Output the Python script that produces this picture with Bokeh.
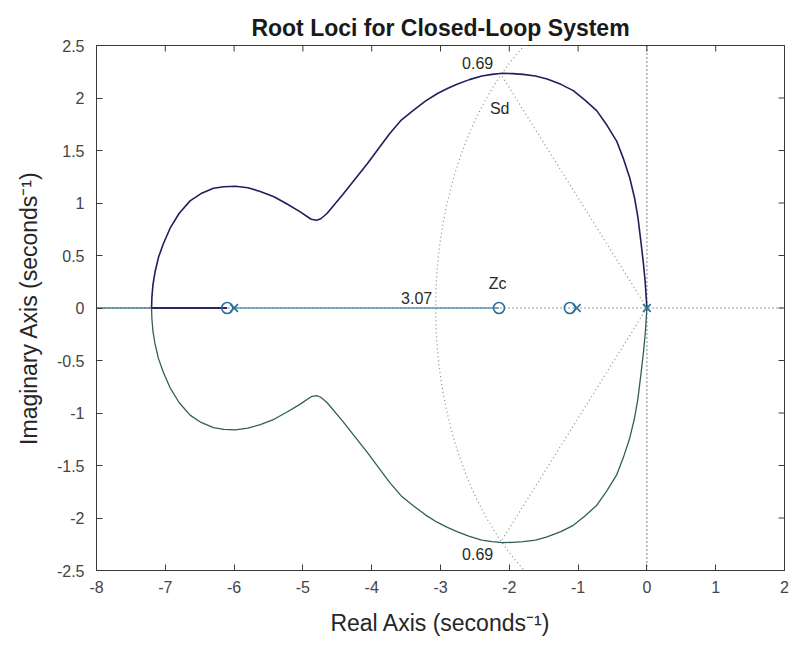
import numpy as np
from bokeh.plotting import figure
from bokeh.models import FixedTicker, Range1d
from bokeh.core.properties import value
from bokeh.embed import file_html
from bokeh.resources import INLINE

# ---- data ----
x_ticks = [-8, -7, -6, -5, -4, -3, -2, -1, 0, 1, 2]
x_tick_labels = ["-8", "-7", "-6", "-5", "-4", "-3", "-2", "-1", "0", "1", "2"]
y_ticks = [-2.5, -2, -1.5, -1, -0.5, 0, 0.5, 1, 1.5, 2, 2.5]
y_tick_labels = ["-2.5", "-2", "-1.5", "-1", "-0.5", "0", "0.5", "1", "1.5", "2", "2.5"]

# upper complex branch (from the pole at the origin to the break-in near -7.2)
branch_re = [0, -0.01, -0.025, -0.05, -0.085, -0.13, -0.18, -0.25, -0.34, -0.44,
             -0.58, -0.73, -0.90, -1.07, -1.25, -1.45, -1.62, -1.80, -1.95, -2.10,
             -2.25, -2.40, -2.58, -2.76, -2.90, -3.05, -3.22, -3.40, -3.57, -3.74,
             -4.07, -4.42, -4.65, -4.74, -4.80, -4.88, -5.05, -5.23, -5.42, -5.62,
             -5.80, -5.98, -6.15, -6.30, -6.48, -6.64, -6.80, -6.93, -7.03, -7.10,
             -7.15, -7.18, -7.195, -7.20]
branch_im = [0, 0.10, 0.25, 0.42, 0.62, 0.86, 1.05, 1.24, 1.42, 1.59,
             1.74, 1.88, 1.98, 2.07, 2.13, 2.18, 2.21, 2.225, 2.232, 2.235,
             2.225, 2.21, 2.175, 2.13, 2.09, 2.04, 1.97, 1.88, 1.79, 1.66,
             1.37, 1.08, 0.90, 0.85, 0.835, 0.845, 0.92, 0.99, 1.06, 1.11,
             1.145, 1.16, 1.155, 1.14, 1.09, 1.02, 0.90, 0.76, 0.61, 0.48,
             0.34, 0.22, 0.10, 0]

# real-axis locus segments
seg_outer = [-8.0, -7.2]     # leftmost segment
seg_inner = [-7.2, -6.1]     # break-in point to the zero
seg_mid = [-6.0, -2.15]      # pole to compensator zero Zc

poles_re = [0.0, -1.02, -6.0]
zeros_re = [-1.12, -2.15, -6.1]

zeta = 0.69
wn = 3.07

# ---- figure ----
FONT = "Liberation Sans"
AXC = "#3a3a3a"
p = figure(width=791, height=649, output_backend="svg", toolbar_location=None,
           x_range=Range1d(-8, 2), y_range=Range1d(-2.5, 2.5),
           min_border_left=96, min_border_right=7, min_border_top=45, min_border_bottom=79,
           background_fill_color="white", border_fill_color="white")
p.grid.visible = False
p.outline_line_color = AXC
p.outline_line_width = 1

p.title.text = "Root Loci for Closed-Loop System"
p.title.align = "center"
p.title.text_font = FONT
p.title.text_font_size = "23px"
p.title.text_font_style = "bold"
p.title.text_color = "#1a1a1a"

for ax, ticks, labels in ((p.xaxis[0], x_ticks, x_tick_labels), (p.yaxis[0], y_ticks, y_tick_labels)):
    ax.ticker = FixedTicker(ticks=ticks)
    ax.major_label_overrides = {t: l for t, l in zip(ticks, labels)}
    ax.major_tick_in = 6
    ax.major_tick_out = 0
    ax.minor_tick_in = 0
    ax.minor_tick_out = 0
    ax.axis_line_color = AXC
    ax.major_tick_line_color = AXC
    ax.major_label_text_font = FONT
    ax.major_label_text_font_size = "16px"
    ax.major_label_text_color = "#444444"
    ax.axis_label_text_font = FONT
    ax.axis_label_text_font_size = "23px"
    ax.axis_label_text_font_style = "normal"
    ax.axis_label_text_color = "#262626"

p.xaxis[0].axis_label = "Real Axis (seconds\u207b\u00b9)"
p.yaxis[0].axis_label = "Imaginary Axis (seconds\u207b\u00b9)"
p.xaxis[0].major_label_standoff = 10
p.yaxis[0].major_label_standoff = 12
p.xaxis[0].axis_label_standoff = 14
p.yaxis[0].axis_label_standoff = 12

# inward ticks on the top and right edges of the box (clipped half-dashes)
p.scatter(x_ticks, [2.5] * len(x_ticks), marker="dash", angle=np.pi / 2, size=12,
          line_color=AXC, line_width=1)
p.scatter([2] * len(y_ticks), y_ticks, marker="dash", size=12, line_color=AXC, line_width=1)

# ---- sgrid lines (dotted) ----
p.line([-8, 2], [0, 0], line_color="#2a3a4a", line_dash="1 3", line_width=1.2)
p.line([0, 0], [-2.5, 2.5], line_color="#2a3a4a", line_dash="1 3", line_width=1.2)
theta = np.arccos(zeta)
ray_x = [0, -wn * np.cos(theta)]
ray_y = [0, wn * np.sin(theta)]
p.line(ray_x, ray_y, line_color="#8a8a8a", line_dash="1 3", line_width=1.2)
p.line(ray_x, [-v for v in ray_y], line_color="#8a8a8a", line_dash="1 3", line_width=1.2)
ang = np.linspace(np.pi / 2, 3 * np.pi / 2, 200)
p.line(wn * np.cos(ang), wn * np.sin(ang), line_color="#8a8a8a", line_dash="1 3", line_width=1.2)

# ---- locus ----
p.line(seg_outer, [0, 0], line_color="#4a7f8c", line_width=1.5)
p.line(seg_mid, [0, 0], line_color="#5b97ad", line_width=1.5)
p.line(seg_inner, [0, 0], line_color="#2e2563", line_width=1.8)
p.line(branch_re, branch_im, line_color="#1f1f5c", line_width=1.6, line_join="round")
p.line(branch_re, [-v for v in branch_im], line_color="#2f5f5c", line_width=1.3,
       line_join="round")

# poles and zeros
p.scatter(zeros_re, [0] * len(zeros_re), marker="circle", size=11, fill_color=None,
          line_color="#2d6e98", line_width=1.6)
p.scatter(poles_re, [0] * len(poles_re), marker="x", size=11,
          line_color="#2d6e98", line_width=1.6)

# annotations
txt = dict(text_font=value(FONT), text_font_size="16px", text_color="#2a2a2a")
p.text([-2.46], [2.33], text=["0.69"], text_align="center", text_baseline="middle", **txt)
p.text([-2.46], [-2.34], text=["0.69"], text_align="center", text_baseline="middle", **txt)
p.text([-2.14], [1.90], text=["Sd"], text_align="center", text_baseline="middle", **txt)
p.text([-2.17], [0.23], text=["Zc"], text_align="center", text_baseline="middle", **txt)
p.text([-3.12], [0.10], text=["3.07"], text_align="right", text_baseline="middle", **txt)

open("out.html", "w").write(file_html(p, INLINE))
